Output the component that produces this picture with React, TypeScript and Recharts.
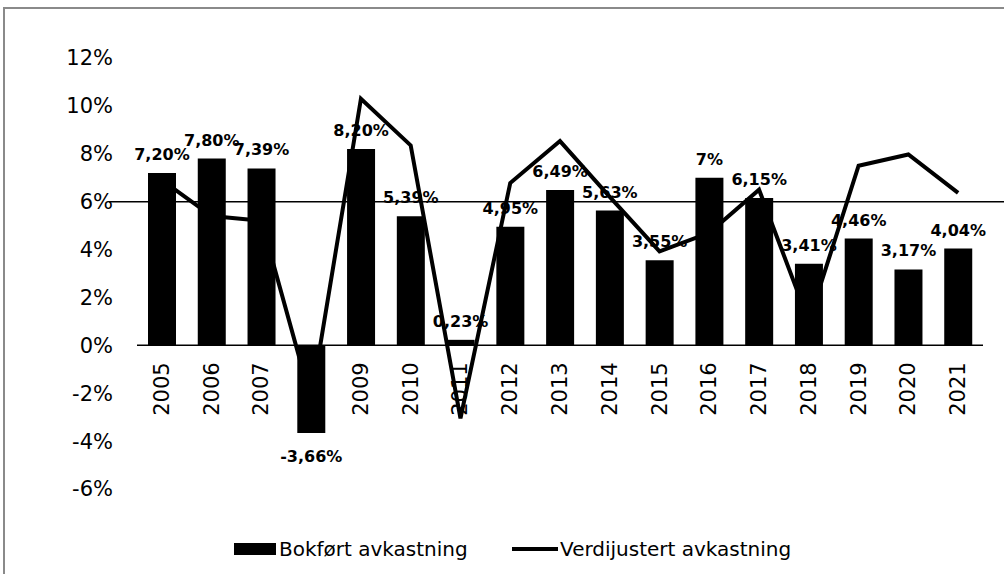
import { ComposedChart, Bar, Line, XAxis, YAxis, ReferenceLine, LabelList } from 'recharts';

const years = ['2005', '2006', '2007', '2008', '2009', '2010', '2011', '2012', '2013', '2014', '2015', '2016', '2017', '2018', '2019', '2020', '2021'];
const bokfort = [7.2, 7.8, 7.39, -3.66, 8.2, 5.39, 0.23, 4.95, 6.49, 5.63, 3.55, 7, 6.15, 3.41, 4.46, 3.17, 4.04];
const verdijustert = [6.9, 5.4, 5.2, -2.3, 10.3, 8.35, -3.05, 6.78, 8.53, 6.2, 3.92, 4.7, 6.5, 1.0, 7.5, 7.97, 6.37];
const yTicks = [-6, -4, -2, 0, 2, 4, 6, 8, 10, 12];
const targetLevel = 6;

const data = years.map((year, i) => ({ year, bokfort: bokfort[i], verdijustert: verdijustert[i] }));

const W = 1004;
const H = 574;
const TOP = 58;
const X_AXIS_H = 85;
const PLOT_H = H - TOP - X_AXIS_H;
// zero sits 12 of 18 units down from the top of the y domain
const ZERO_Y = TOP + PLOT_H * (12 / 18);
const FONT = '"DejaVu Sans", Verdana, sans-serif';

const fmtLabel = (v: number) => (Number.isInteger(v) ? `${v}%` : `${v.toFixed(2).replace('.', ',')}%`);

const YearTick = ({ x, payload }: any) => (
  <text
    transform={`translate(${x},${ZERO_Y + 17}) rotate(-90)`}
    textAnchor="end"
    dominantBaseline="central"
    fontSize={21}
    fontFamily={FONT}
    fill="#000"
  >
    {payload.value}
  </text>
);

const ValueLabel = (props: any) => {
  const { x, y, width, height, value } = props;
  const top = Math.min(y, y + height);
  const bottom = Math.max(y, y + height);
  const ty = value >= 0 ? top - 13 : bottom + 29;
  return (
    <text x={x + width / 2} y={ty} textAnchor="middle" fontSize={16} fontWeight="bold" fontFamily={FONT} fill="#000">
      {fmtLabel(value)}
    </text>
  );
};

const TargetLine = (props: any) => (
  <line x1={props.x1 - 28} y1={props.y1} x2={props.x2 + 21} y2={props.y2} stroke="#000" strokeWidth={1.5} />
);

export default function App() {
  return (
    <div style={{ position: 'absolute', left: 0, top: 0, width: W, height: H, overflow: 'hidden', background: '#fff' }}>
      <div
        style={{
          position: 'absolute',
          left: 3,
          top: 7,
          width: W + 20,
          height: H + 20,
          borderTop: '2px solid #8a8a8a',
          borderLeft: '2px solid #8a8a8a',
        }}
      />
      <div style={{ position: 'absolute', left: 0, top: 0 }}>
        <ComposedChart width={W} height={H} data={data} margin={{ top: TOP, right: 21, left: 0, bottom: 0 }}>
          <XAxis
            dataKey="year"
            height={X_AXIS_H}
            axisLine={false}
            tickLine={false}
            interval={0}
            tick={<YearTick />}
            zIndex={350}
          />
          <YAxis
            width={137}
            domain={[-6, 12]}
            ticks={yTicks}
            axisLine={false}
            tickLine={false}
            tickSize={0}
            tickMargin={24}
            tickFormatter={(v: number) => `${v}%`}
            tick={{ fontSize: 21, fontFamily: FONT, fill: '#000' }}
          />
          <ReferenceLine y={0} stroke="#000" strokeWidth={1.5} />
          <Bar dataKey="bokfort" name="Bokført avkastning" fill="#000" barSize={28} isAnimationActive={false}>
            <LabelList dataKey="bokfort" content={<ValueLabel />} />
          </Bar>
          <ReferenceLine y={targetLevel} shape={<TargetLine />} />
          <Line
            type="linear"
            dataKey="verdijustert"
            name="Verdijustert avkastning"
            stroke="#000"
            strokeWidth={4}
            dot={false}
            activeDot={false}
            isAnimationActive={false}
          />
        </ComposedChart>
      </div>
      <div style={{ position: 'absolute', left: 234, top: 543, width: 42, height: 12, background: '#000' }} />
      <div style={{ position: 'absolute', left: 279, top: 538, fontSize: 20, lineHeight: '22px', fontFamily: FONT, color: '#000', whiteSpace: 'nowrap' }}>
        Bokført avkastning
      </div>
      <div style={{ position: 'absolute', left: 512, top: 547, width: 46, height: 4, background: '#000' }} />
      <div style={{ position: 'absolute', left: 560, top: 538, fontSize: 20, lineHeight: '22px', fontFamily: FONT, color: '#000', whiteSpace: 'nowrap' }}>
        Verdijustert avkastning
      </div>
    </div>
  );
}
